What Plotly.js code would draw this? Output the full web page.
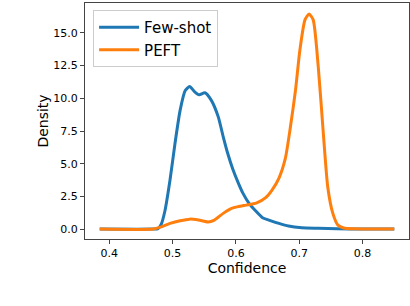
<!DOCTYPE html>
<html>
<head>
<meta charset="utf-8">
<script src="https://cdn.plot.ly/plotly-3.0.1.min.js"></script>
<style>html,body{margin:0;padding:0;background:#fff;}#chart{width:410px;height:306px;}</style>
</head>
<body>
<div id="chart"></div>
<script>
const fewShotX = [0.385,0.470,0.477,0.482,0.488,0.496,0.504,0.512,0.520,0.527,0.535,0.542,0.551,0.561,0.572,0.580,0.587,0.595,0.604,0.611,0.621,0.631,0.642,0.652,0.668,0.683,0.704,0.730,0.760,0.800,0.850];
const fewShotY = [0,0,0.03,0.35,1.4,3.75,6.6,9.1,10.6,10.9,10.5,10.27,10.42,9.86,8.6,7.06,5.8,4.6,3.5,2.75,1.95,1.4,0.87,0.69,0.43,0.23,0.1,0.06,0.02,0,0];
const peftX = [0.385,0.470,0.481,0.496,0.512,0.527,0.541,0.556,0.566,0.580,0.593,0.604,0.616,0.632,0.647,0.657,0.668,0.678,0.686,0.694,0.701,0.709,0.7155,0.722,0.730,0.738,0.745,0.753,0.761,0.770,0.785,0.850];
const peftY = [0,0,0.15,0.43,0.64,0.76,0.69,0.54,0.69,1.2,1.58,1.72,1.83,1.98,2.4,2.98,3.9,5.4,7.8,10.6,13.7,16.0,16.45,16.0,12.4,7.3,3.2,1.2,0.3,0.08,0.02,0];
const seriesNames = ["Few-shot","PEFT"];
const xTicks = [0.4,0.5,0.6,0.7,0.8];
const yTicks = [0,2.5,5,7.5,10,12.5,15];

const font = "DejaVu Sans, sans-serif";
const traces = [
  {x: fewShotX, y: fewShotY, name: seriesNames[0], type: "scatter", mode: "lines",
   line: {color: "#1f77b4", width: 3, shape: "spline", smoothing: 0.6}},
  {x: peftX, y: peftY, name: seriesNames[1], type: "scatter", mode: "lines",
   line: {color: "#ff7f0e", width: 3, shape: "spline", smoothing: 0.6}}
];
const axisCommon = {
  showgrid: false, zeroline: false, showline: true, mirror: true,
  linecolor: "#444", linewidth: 1, ticks: "outside", ticklen: 4, tickcolor: "#444",
  tickfont: {family: font, size: 11, color: "#000"}
};
const layout = {
  width: 410, height: 306,
  margin: {l: 85, r: 1, t: 3, b: 67},
  paper_bgcolor: "#fff", plot_bgcolor: "#fff",
  showlegend: true,
  legend: {x: 0.025, y: 0.97, xanchor: "left", yanchor: "top", itemwidth: 40,
    bgcolor: "rgba(255,255,255,0.8)", bordercolor: "#ccc", borderwidth: 1,
    font: {family: font, size: 15, color: "#000"}},
  xaxis: Object.assign({}, axisCommon, {
    range: [0.3618, 0.8732], tickvals: xTicks, tickformat: ".1f",
    title: {text: "Confidence", font: {family: font, size: 14, color: "#000"}, standoff: 0}
  }),
  yaxis: Object.assign({}, axisCommon, {
    range: [-0.76, 17.29], tickvals: yTicks, tickformat: ".1f",
    title: {text: "Density", font: {family: font, size: 14, color: "#000"}, standoff: 1}
  })
};
Plotly.newPlot("chart", traces, layout, {displayModeBar: false, staticPlot: true});
</script>
</body>
</html>
